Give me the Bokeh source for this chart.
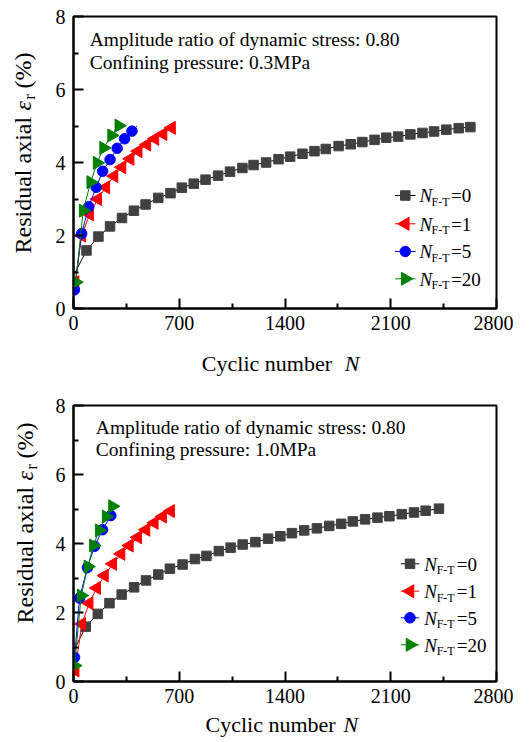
import math
from bokeh.plotting import figure
from bokeh.models import Range1d, FixedTicker
from bokeh.core.properties import value
from bokeh.layouts import column
from bokeh.embed import file_html
from bokeh.resources import INLINE

# ---------------- data ----------------
x_ticks = [0, 700, 1400, 2100, 2800]
x_minor_ticks = [350, 1050, 1750, 2450]
y_ticks = [0, 2, 4, 6, 8]
y_minor_ticks = [1, 3, 5, 7]

legend_values = ["0", "1", "5", "20"]

note_top = ["Amplitude ratio of dynamic stress: 0.80", "Confining pressure: 0.3MPa"]
note_bottom = ["Amplitude ratio of dynamic stress: 0.80", "Confining pressure: 1.0MPa"]

# Top panel (confining pressure 0.3 MPa)
top_n0_x = [6, 86, 165, 242, 321, 400, 477, 561, 642, 717, 796, 874, 957, 1036, 1118, 1192,
            1275, 1357, 1434, 1516, 1595, 1670, 1755, 1835, 1912, 1993, 2070, 2149, 2230,
            2310, 2387, 2468, 2550, 2627]
top_n0_y = [0.95, 1.59, 1.97, 2.25, 2.48, 2.68, 2.85, 3.03, 3.16, 3.31, 3.42, 3.53, 3.64, 3.75,
            3.85, 3.93, 4.00, 4.09, 4.16, 4.24, 4.31, 4.37, 4.45, 4.50, 4.56, 4.62, 4.68, 4.71,
            4.77, 4.81, 4.85, 4.90, 4.94, 4.97]
top_n1_x = [11, 54, 107, 161, 214, 268, 321, 375, 428, 486, 539, 593, 649]
top_n1_y = [0.72, 2.00, 2.58, 3.00, 3.32, 3.63, 3.87, 4.10, 4.31, 4.49, 4.65, 4.78, 4.95]
top_n5_x = [6, 54, 101, 150, 193, 242, 289, 338, 387]
top_n5_y = [0.51, 2.05, 2.79, 3.32, 3.76, 4.08, 4.39, 4.65, 4.86]
top_n5_tail_x = [422]
top_n5_tail_y = [5.00]
top_n20_x = [15, 64, 114, 156, 199, 252, 300]
top_n20_y = [0.72, 2.68, 3.46, 3.99, 4.40, 4.74, 5.01]

# Bottom panel (confining pressure 1.0 MPa)
bot_n0_x = [8, 81, 161, 238, 319, 401, 480, 561, 638, 722, 804, 880, 962, 1040, 1120, 1204,
            1288, 1369, 1446, 1527, 1611, 1693, 1772, 1849, 1930, 2012, 2091, 2173, 2254,
            2331, 2419]
bot_n0_y = [0.95, 1.59, 1.96, 2.27, 2.52, 2.73, 2.93, 3.10, 3.27, 3.39, 3.55, 3.64, 3.78, 3.88,
            3.97, 4.04, 4.14, 4.21, 4.30, 4.38, 4.44, 4.51, 4.57, 4.64, 4.70, 4.75, 4.79, 4.85,
            4.90, 4.95, 5.01]
bot_n1_x = [11, 55, 104, 154, 205, 260, 315, 370, 425, 480, 535, 590, 643]
bot_n1_y = [0.32, 1.67, 2.27, 2.71, 3.07, 3.41, 3.70, 3.94, 4.18, 4.40, 4.60, 4.78, 4.94]
bot_n5_x = [7, 40, 92, 140, 192, 247]
bot_n5_y = [0.70, 2.42, 3.30, 3.92, 4.40, 4.81]
bot_n5_tail_x = [262]
bot_n5_tail_y = [4.86]
bot_n20_x = [7, 51, 95, 132, 170, 216, 258]
bot_n20_y = [0.46, 2.49, 3.33, 3.94, 4.38, 4.78, 5.08]

# ---------------- styling ----------------
FONT = "Liberation Serif"
STYLES = [
    dict(marker="square", size=9.5, fill="#404040", mline="#404040", line="black", angle=0.0, first=1),
    dict(marker="triangle", size=13, fill="#ff0000", mline="#ff0000", line="#ff0000", angle=math.pi / 2, first=0),
    dict(marker="circle", size=10.5, fill="#0000ff", mline="#0000ff", line="#0000ff", angle=0.0, first=0),
    dict(marker="triangle", size=13, fill="#008000", mline="#008000", line="#008000", angle=-math.pi / 2, first=0),
]


def make_panel(geom, series, notes, note_pos, leg, ytitle, xtitle):
    # geom: frame left/top/width/height in page px, canvas top in page px, figure height
    L, T, W, H, ctop, fh = geom
    p = figure(width=513, height=fh, x_range=Range1d(0, 2800), y_range=Range1d(0, 8),
               output_backend="svg", toolbar_location=None,
               min_border_left=L - 8, min_border_right=521 - (L + W),
               min_border_top=T - ctop, min_border_bottom=ctop + fh - (T + H))
    p.background_fill_color = "white"
    p.border_fill_color = "white"
    p.outline_line_color = "black"
    p.outline_line_width = 2
    p.xgrid.visible = False
    p.ygrid.visible = False

    p.xaxis.ticker = FixedTicker(ticks=x_ticks, minor_ticks=x_minor_ticks)
    p.yaxis.ticker = FixedTicker(ticks=y_ticks, minor_ticks=y_minor_ticks)
    for ax in (p.xaxis, p.yaxis):
        ax.axis_line_width = 2
        ax.axis_line_color = "black"
        ax.major_tick_in = 10
        ax.major_tick_out = 0
        ax.minor_tick_in = 5
        ax.minor_tick_out = 0
        ax.major_tick_line_width = 2
        ax.minor_tick_line_width = 2
        ax.major_tick_line_color = "black"
        ax.minor_tick_line_color = "black"
        ax.major_label_text_font = FONT
        ax.major_label_text_font_size = "20px"
        ax.major_label_text_color = "black"
    p.xaxis.major_label_standoff = 7
    p.yaxis.major_label_standoff = 8

    def dx(px):
        return (px - L) / W * 2800

    def dy(py):
        return (T + H - py) / H * 8

    def txt(px, py, text, size, style="normal", angle=0.0):
        off = 0.3 * size  # baseline correction
        if angle == 0.0:
            py = py - off
        else:
            px = px - off
        p.text(x=[dx(px)], y=[dy(py)], text=[text], text_font=value(FONT),
               text_font_size=value(f"{size}px"), text_font_style=style,
               text_color="black", angle=angle, text_align="left",
               text_baseline="alphabetic", level="overlay")

    for (xs, ys, lx, ly), st in zip(series, STYLES):
        p.line(xs + lx, ys + ly, line_color=st["line"], line_width=1)
        f = st["first"]
        p.scatter(xs[f:], ys[f:], marker=st["marker"], size=st["size"],
                  fill_color=st["fill"], line_color=st["mline"], angle=st["angle"])

    # legend (keys + mixed-style labels)
    (kx0, kx1, ltx, lrows) = leg
    for c, v, st in zip(lrows, legend_values, STYLES):
        p.line([dx(kx0), dx(kx1)], [dy(c), dy(c)], line_color=st["line"], line_width=1)
        p.scatter([dx((kx0 + kx1) / 2)], [dy(c)], marker=st["marker"], size=st["size"],
                  fill_color=st["fill"], line_color=st["mline"], angle=st["angle"])
        txt(ltx, c + 6, "N", 19, "italic")
        txt(ltx + 12.5, c + 10, "F-T", 12)
        txt(ltx + 32.5, c + 6, "=" + v, 19)

    nx, ny1, ny2 = note_pos
    txt(nx, ny1, notes[0], 19.5)
    txt(nx, ny2, notes[1], 19.5)

    # y-axis title (rotated): Residual axial ε_r (%)
    bx, by = ytitle
    a = math.pi / 2
    txt(bx, by, "Residual axial", 24, angle=a)
    txt(bx, by - 143, "\u03b5", 24, "italic", angle=a)
    txt(bx + 4, by - 154, "r", 16, angle=a)
    txt(bx, by - 165, "(%)", 24, angle=a)

    # x-axis title: Cyclic number N
    tx, ty, nxp = xtitle
    txt(tx, ty, "Cyclic number", 22)
    txt(nxp, ty, "N", 22, "italic")
    return p


top_series = [
    (top_n0_x, top_n0_y, [], []),
    (top_n1_x, top_n1_y, [], []),
    (top_n5_x, top_n5_y, top_n5_tail_x, top_n5_tail_y),
    (top_n20_x, top_n20_y, [], []),
]
bot_series = [
    (bot_n0_x, bot_n0_y, [], []),
    (bot_n1_x, bot_n1_y, [], []),
    (bot_n5_x, bot_n5_y, bot_n5_tail_x, bot_n5_tail_y),
    (bot_n20_x, bot_n20_y, [], []),
]

p1 = make_panel((71, 16, 435, 292, 0, 382), top_series, note_top, (87.7, 45, 68),
                (401.7, 422.7, 426.7, [195, 223.3, 251, 278.3]),
                (26.7, 253), (203, 370, 350))
p2 = make_panel((81, 405, 423, 276, 382, 356), bot_series, note_bottom, (103.3, 433.3, 455),
                (408.3, 426.7, 431.7, [563.3, 590.7, 617.3, 644.3]),
                (40, 623), (213, 731, 351))

layout = column(p1, p2, spacing=0)
open("out.html", "w").write(file_html(layout, INLINE))
